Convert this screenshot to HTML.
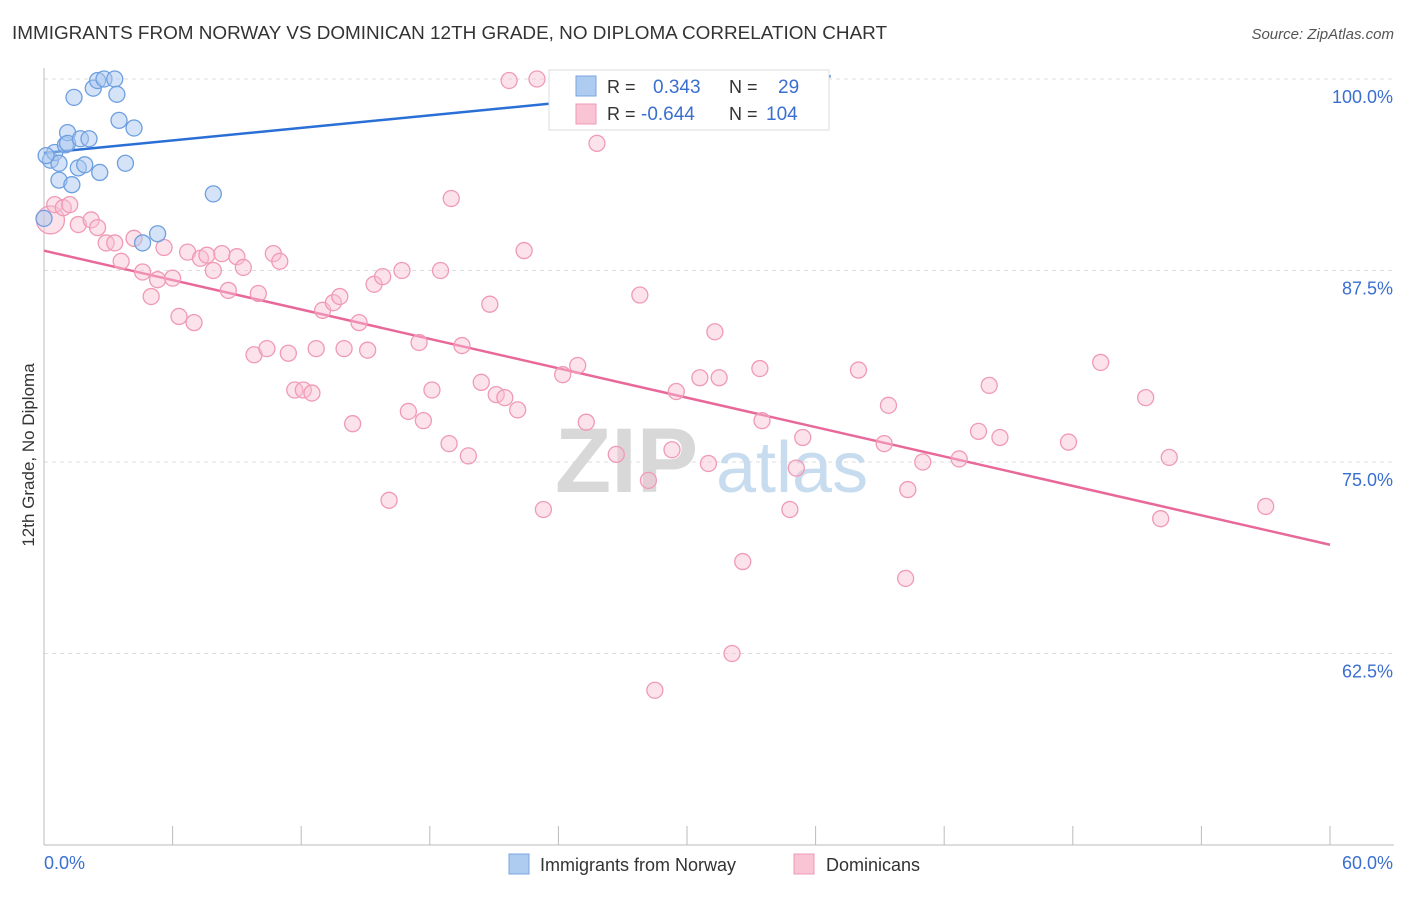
<!DOCTYPE html>
<html><head><meta charset="utf-8">
<style>
body{margin:0;background:#fff;font-family:"Liberation Sans",sans-serif;}
svg text{font-family:"Liberation Sans",sans-serif;}
</style></head>
<body>
<svg id="chart" width="1406" height="892" xmlns="http://www.w3.org/2000/svg">
<text x="12" y="39" font-size="18.9" fill="#333">IMMIGRANTS FROM NORWAY VS DOMINICAN 12TH GRADE, NO DIPLOMA CORRELATION CHART</text>
<text x="1394" y="39" font-size="15" fill="#555" text-anchor="end" font-style="italic">Source: ZipAtlas.com</text>
<text x="34" y="455" font-size="17" fill="#333" text-anchor="middle" transform="rotate(-90 34 455)">12th Grade, No Diploma</text>
<g id="grid"></g>
<text x="555" y="492" font-size="92" fill="#d8d8d8" font-family="Liberation Serif" font-weight="bold">ZIP</text>
<text x="716" y="492" font-size="72" fill="#c8dcf0">atlas</text>
<g id="axes"></g>
<g id="lines"></g>
<g id="points"></g>
<g id="legendTop">
<rect x="549" y="70" width="280" height="60" fill="#fff" stroke="#ddd"/>
<rect x="576" y="76" width="20" height="20" fill="#aecbf0" stroke="#7aa6e0"/>
<rect x="576" y="104" width="20" height="20" fill="#f9c4d4" stroke="#f09ab4"/>
<text x="607" y="93" font-size="18" fill="#333">R = </text><text x="653" y="93" font-size="19" fill="#3a6fd0">0.343</text>
<text x="729" y="93" font-size="18" fill="#333">N = </text><text x="778" y="93" font-size="19" fill="#3a6fd0">29</text>
<text x="607" y="120" font-size="18" fill="#333">R = </text><text x="641" y="120" font-size="19" fill="#3a6fd0">-0.644</text>
<text x="729" y="120" font-size="18" fill="#333">N = </text><text x="766" y="120" font-size="19" fill="#3a6fd0">104</text>
</g>
<g>
<rect x="509" y="854" width="20" height="20" fill="#aecbf0" stroke="#7aa6e0"/>
<text x="540" y="871" font-size="18" fill="#333">Immigrants from Norway</text>
<rect x="794" y="854" width="20" height="20" fill="#f9c4d4" stroke="#f09ab4"/>
<text x="826" y="871" font-size="18" fill="#333">Dominicans</text>
</g>
</svg>
<script>
const yTicks=[100,87.5,75,62.5];
const yTickLabels=["100.0%","87.5%","75.0%","62.5%"];
const xTickLabels=["0.0%","60.0%"];
const norwayX=[0.3,0.5,0.7,0.7,1.3,1.0,1.1,1.1,1.4,1.7,2.1,1.6,1.9,2.3,2.5,2.8,3.3,3.4,3.5,4.2,3.8,2.6,7.9,4.6,5.3,0,34.3,25.9,0.1];
const norwayY=[94.7,95.2,94.5,93.4,93.1,95.7,96.5,95.8,98.8,96.1,96.1,94.2,94.4,99.4,99.9,100,100,99.0,97.3,96.8,94.5,93.9,92.5,89.3,89.9,90.9,100,99.7,95.0];
const domX=[0.3,0.5,0.9,1.2,1.6,2.2,2.5,2.9,3.3,3.6,4.2,4.6,5.0,5.3,5.6,6.0,6.3,6.7,7.0,7.3,7.6,7.9,8.3,8.6,9.0,9.3,9.8,10.0,10.4,10.7,11.0,11.4,11.7,12.1,12.5,12.7,13.0,13.5,13.8,14.0,14.4,14.7,15.1,15.4,15.8,16.1,16.7,17.0,17.5,17.7,18.1,18.5,18.9,19.0,19.5,19.8,20.4,20.8,21.1,21.5,22.1,22.4,21.7,23.0,23.3,24.2,24.9,25.3,25.8,26.7,27.8,28.2,28.5,29.3,29.5,30.6,31.0,31.3,31.5,32.1,32.6,33.4,33.5,34.8,35.1,35.4,38.0,39.2,39.4,40.2,40.3,41.0,42.7,43.6,44.1,44.6,47.8,49.3,51.4,52.1,52.5,57.0];
const domY=[90.8,91.8,91.6,91.8,90.5,90.8,90.3,89.3,89.3,88.1,89.6,87.4,85.8,86.9,89.0,87.0,84.5,88.7,84.1,88.3,88.5,87.5,88.6,86.2,88.4,87.7,82.0,86.0,82.4,88.6,88.1,82.1,79.7,79.7,79.5,82.4,84.9,85.4,85.8,82.4,77.5,84.1,82.3,86.6,87.1,72.5,87.5,78.3,82.8,77.7,79.7,87.5,76.2,92.2,82.6,75.4,80.2,85.3,79.4,79.2,78.4,88.8,99.9,100,71.9,80.7,81.3,77.6,95.8,75.5,85.9,73.8,60.1,75.8,79.6,80.5,74.9,83.5,80.5,62.5,68.5,81.1,77.7,71.9,74.6,76.6,81.0,76.2,78.7,67.4,73.2,75.0,75.2,77.0,80.0,76.6,76.3,81.5,79.2,71.3,75.3,72.1];

const NS="http://www.w3.org/2000/svg";
const X0=44,X1=1330,Y0=845,Y1=79;
const xs=v=>X0+(v/60)*(X1-X0);
const ys=v=>Y1+(100-v)*(Y0-Y1)/50;
function mk(tag,attrs,parent){const e=document.createElementNS(NS,tag);for(const k in attrs)e.setAttribute(k,attrs[k]);parent.appendChild(e);return e;}
const grid=document.getElementById('grid'),axes=document.getElementById('axes');
yTicks.forEach((t,i)=>{
  const g=mk('line',{x1:X0,x2:1394,y1:ys(t),y2:ys(t),stroke:'#ddd','stroke-dasharray':'4,4'},grid);
  
  
  const tx=mk('text',{x:1393,y:ys(t)+24,'font-size':18,fill:'#3a6fd0','text-anchor':'end'},axes);
  tx.textContent=yTickLabels[i];
  
  
});
mk('line',{x1:X0,x2:X0,y1:68,y2:Y0,stroke:'#bbb'},axes);
mk('line',{x1:X0,x2:1394,y1:Y0,y2:Y0,stroke:'#bbb'},axes);
for(let i=0;i<=10;i++){mk('line',{x1:xs(i*6),x2:xs(i*6),y1:826,y2:Y0,stroke:'#bbb'},axes);}
[[0,X0,'start'],[60,1393,'end']].forEach((d,i)=>{
  const tx=mk('text',{x:d[1],y:869,'font-size':18,fill:'#3a6fd0','text-anchor':d[2]},axes);
  tx.textContent=xTickLabels[i];
  
  
});
function reg(X,Y){const n=X.length;let mx=0,my=0;X.forEach((v,i)=>{mx+=v;my+=Y[i];});mx/=n;my/=n;let sxy=0,sxx=0;X.forEach((v,i)=>{sxy+=(v-mx)*(Y[i]-my);sxx+=(v-mx)**2;});const b=sxy/sxx;return [my-b*mx,b];}
const pts=document.getElementById('points');
domX.forEach((x,i)=>{
  const c=mk('circle',{cx:xs(x),cy:ys(domY[i]),r:i==0?14:8,fill:'rgba(249,190,210,0.45)',stroke:'#f09ab4','stroke-width':1.3},pts);
  
  
});
norwayX.forEach((x,i)=>{
  const c=mk('circle',{cx:xs(x),cy:ys(norwayY[i]),r:8,fill:'rgba(170,200,240,0.5)',stroke:'#6e9fe0','stroke-width':1.3},pts);
  
  
});
const lines=document.getElementById('lines');
const rd=reg(domX,domY);
const l1=mk('line',{x1:xs(0),y1:ys(rd[0]),x2:xs(60),y2:ys(rd[0]+rd[1]*60),stroke:'#e8689a','stroke-width':2.5},lines);


const rn=reg(norwayX,norwayY);
const xe=Math.max(...norwayX)+2.4;
const l2=mk('line',{x1:xs(0),y1:ys(rn[0]),x2:xs(xe),y2:ys(rn[0]+rn[1]*xe),stroke:'#2a6fd6','stroke-width':2.5},lines);


const chart=document.getElementById('chart');
chart.appendChild(document.getElementById('legendTop'));
</script>
</body></html>
